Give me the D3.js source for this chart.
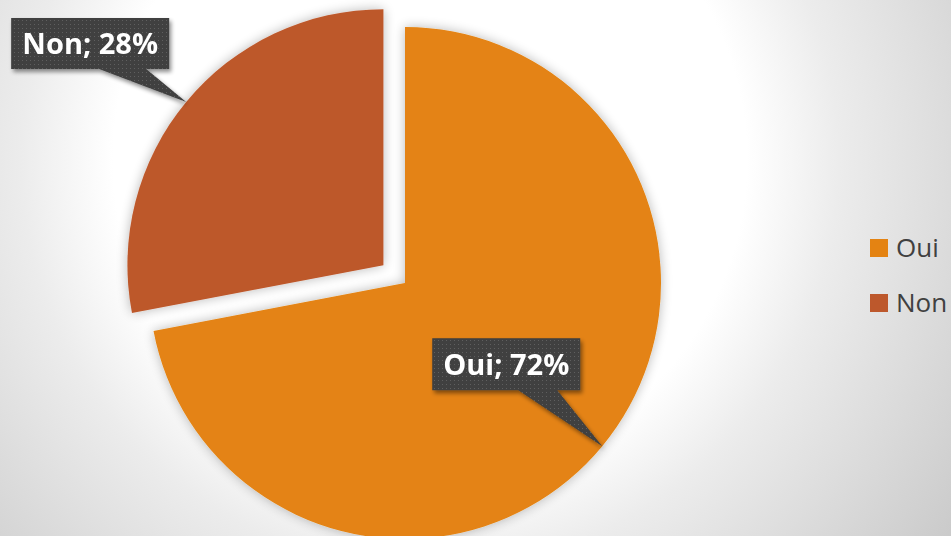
<!DOCTYPE html>
<html>
<head>
<meta charset="utf-8">
<script src="https://cdn.jsdelivr.net/npm/d3@7"></script>
<style>
  html, body { margin: 0; padding: 0; overflow: hidden; }
  svg { display: block; }
</style>
</head>
<body>
<div id="chart"></div>
<script>
// data
var categories = ["Oui", "Non"];
var values = [72, 28];
var colors = ["#E48312", "#BD582C"];

var width = 951, height = 536;
var cx = 405, cy = 283, radius = 256;
var explode = 28;   // Non slice is pulled out

var svg = d3.select("#chart").append("svg")
  .attr("width", width)
  .attr("height", height);

var defs = svg.append("defs");

// background radial gradient
var bg = defs.append("radialGradient")
  .attr("id", "bg")
  .attr("gradientUnits", "userSpaceOnUse")
  .attr("cx", 430).attr("cy", 160).attr("r", 660);
bg.append("stop").attr("offset", "0%").attr("stop-color", "#ffffff");
bg.append("stop").attr("offset", "48%").attr("stop-color", "#ffffff");
bg.append("stop").attr("offset", "62%").attr("stop-color", "#ececec");
bg.append("stop").attr("offset", "85%").attr("stop-color", "#d6d6d6");
bg.append("stop").attr("offset", "100%").attr("stop-color", "#c8c8c8");

// soft shadow around slices
var sh = defs.append("filter").attr("id", "sliceShadow")
  .attr("x", "-20%").attr("y", "-20%").attr("width", "140%").attr("height", "140%");
sh.append("feGaussianBlur").attr("in", "SourceAlpha").attr("stdDeviation", 6).attr("result", "b");
sh.append("feComponentTransfer").attr("in", "b").attr("result", "b2")
  .append("feFuncA").attr("type", "linear").attr("slope", 0.28);
var m1 = sh.append("feMerge");
m1.append("feMergeNode").attr("in", "b2");
m1.append("feMergeNode").attr("in", "SourceGraphic");

// label box shadow
var ls = defs.append("filter").attr("id", "boxShadow")
  .attr("x", "-20%").attr("y", "-20%").attr("width", "140%").attr("height", "150%");
ls.append("feGaussianBlur").attr("in", "SourceAlpha").attr("stdDeviation", 2).attr("result", "b");
ls.append("feOffset").attr("in", "b").attr("dx", 2).attr("dy", 3).attr("result", "o");
ls.append("feComponentTransfer").attr("in", "o").attr("result", "o2")
  .append("feFuncA").attr("type", "linear").attr("slope", 0.45);
var m2 = ls.append("feMerge");
m2.append("feMergeNode").attr("in", "o2");
m2.append("feMergeNode").attr("in", "SourceGraphic");

// dotted dark pattern for callouts
var pat = defs.append("pattern").attr("id", "dots")
  .attr("patternUnits", "userSpaceOnUse").attr("width", 4).attr("height", 4);
pat.append("rect").attr("width", 4).attr("height", 4).attr("fill", "#3f3f3f");
pat.append("rect").attr("x", 1).attr("y", 1).attr("width", 1).attr("height", 1).attr("fill", "#5e5e5e");

svg.append("rect").attr("width", width).attr("height", height).attr("fill", "url(#bg)");

var pie = d3.pie().sort(null).value(function(d) { return d.value; });
var arcs = pie(categories.map(function(c, i) { return {name: c, value: values[i], color: colors[i]}; }));

var arc = d3.arc().innerRadius(0).outerRadius(radius);

function offsetOf(d) {
  if (d.data.name !== "Non") return [0, 0];
  var a = (d.startAngle + d.endAngle) / 2;
  return [Math.sin(a) * explode, -Math.cos(a) * explode];
}

var g = svg.append("g").attr("transform", "translate(" + cx + "," + cy + ")");

g.selectAll("path.slice")
  .data(arcs)
  .enter().append("path")
  .attr("class", "slice")
  .attr("d", arc)
  .attr("fill", function(d) { return d.data.color; })
  .attr("filter", "url(#sliceShadow)")
  .attr("transform", function(d) { var o = offsetOf(d); return "translate(" + o[0] + "," + o[1] + ")"; });

// callout labels: box placement relative to tip on the arc
var boxes = {
  Oui: {dx: -170, dy: -108, w: 148, h: 52, b0: 86, b1: 125},
  Non: {dx: -175, dy: -84, w: 158, h: 51, b0: 88, b1: 135}
};

var labels = g.selectAll("g.label")
  .data(arcs)
  .enter().append("g")
  .attr("class", "label")
  .attr("filter", "url(#boxShadow)");

labels.append("path")
  .attr("fill", "url(#dots)")
  .attr("d", function(d) {
    var o = offsetOf(d);
    var a = (d.startAngle + d.endAngle) / 2;
    var tx = o[0] + Math.sin(a) * radius, ty = o[1] - Math.cos(a) * radius;
    var b = boxes[d.data.name];
    var x0 = tx + b.dx, y0 = ty + b.dy;
    return "M" + x0 + "," + y0 +
      "H" + (x0 + b.w) + "V" + (y0 + b.h) +
      "H" + (x0 + b.b1) + "L" + tx + "," + ty +
      "L" + (x0 + b.b0) + "," + (y0 + b.h) +
      "H" + x0 + "Z";
  });

labels.append("text")
  .attr("x", function(d) {
    var o = offsetOf(d), a = (d.startAngle + d.endAngle) / 2;
    var b = boxes[d.data.name];
    return o[0] + Math.sin(a) * radius + b.dx + b.w / 2;
  })
  .attr("y", function(d) {
    var o = offsetOf(d), a = (d.startAngle + d.endAngle) / 2;
    var b = boxes[d.data.name];
    return o[1] - Math.cos(a) * radius + b.dy + b.h / 2 + 11;
  })
  .attr("text-anchor", "middle")
  .style("font-family", "'Open Sans', sans-serif")
  .style("font-weight", "bold")
  .style("font-size", "29px")
  .style("fill", "#ffffff")
  .text(function(d) { return d.data.name + "; " + d3.format(".0%")(d.data.value / d3.sum(values)); });

// legend
var legend = svg.append("g").attr("transform", "translate(870,239)");
var items = legend.selectAll("g")
  .data(categories)
  .enter().append("g")
  .attr("transform", function(d, i) { return "translate(0," + (i * 55) + ")"; });
items.append("rect")
  .attr("width", 18).attr("height", 18)
  .attr("fill", function(d, i) { return colors[i]; });
items.append("text")
  .attr("x", 26).attr("y", 18)
  .style("font-family", "'Open Sans', sans-serif")
  .style("font-size", "26px")
  .style("fill", "#404040")
  .text(function(d) { return d; });
</script>
</body>
</html>
